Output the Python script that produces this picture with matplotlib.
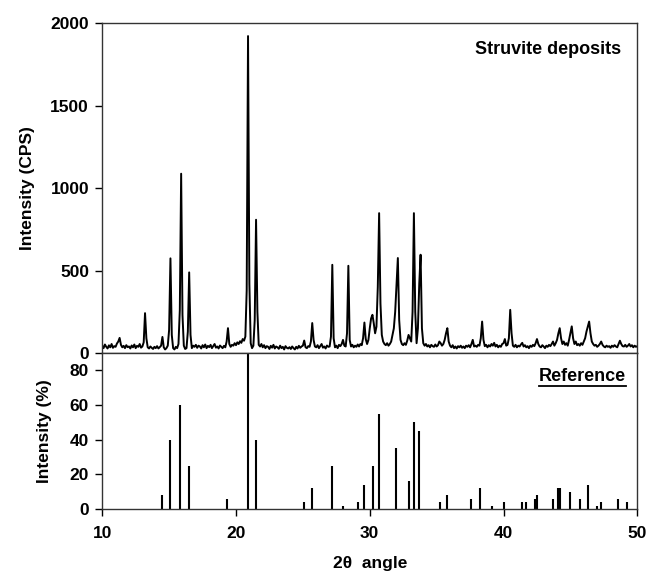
import numpy as np
import matplotlib
matplotlib.use("Agg")
import matplotlib.pyplot as plt
from matplotlib.lines import Line2D

plt.rcParams['font.family'] = ['Liberation Sans', 'DejaVu Sans']
plt.rcParams['font.weight'] = 'bold'
plt.rcParams['axes.labelweight'] = 'bold'

# measured scan, 0.1 deg steps from 10.0 to 50.0 (CPS)
scan_start, scan_step = 10.0, 0.1
cps_10_20 = [45, 30, 52, 38, 28, 47, 35, 55, 32, 42,
             38, 58, 70, 92, 50, 35, 44, 30, 48, 36,
             40, 28, 46, 35, 52, 30, 44, 38, 55, 33,
             40, 65, 242, 90, 35, 28, 40, 32, 25, 38,
             30, 42, 28, 36, 45, 98, 35, 22, 30, 45,
             140, 574, 110, 30, 22, 38, 30, 55, 260, 1087,
             230, 45, 25, 30, 130, 489, 110, 30, 45, 38,
             50, 32, 45, 40, 28, 48, 35, 52, 30, 44,
             36, 50, 30, 42, 55, 33, 40, 28, 46, 38,
             30, 44, 35, 70, 151, 55, 38, 50, 45, 60]
cps_20_30 = [48, 65, 55, 72, 62, 85, 75, 100, 380, 1921,
             420, 60, 30, 45, 200, 808, 250, 50, 40, 55,
             35, 48, 30, 42, 38, 25, 44, 33, 50, 28,
             40, 35, 26, 45, 30, 38, 22, 42, 32, 28,
             36, 25, 40, 30, 22, 38, 28, 44, 32, 40,
             45, 76, 35, 30, 42, 38, 70, 182, 80, 40,
             35, 48, 30, 42, 55, 33, 40, 28, 46, 38,
             40, 100, 535, 90, 35, 45, 30, 50, 42, 55,
             80, 45, 40, 120, 529, 80, 40, 50, 35, 45,
             38, 52, 40, 55, 48, 90, 185, 85, 55, 80]
cps_30_40 = [150, 210, 232, 180, 120, 160, 400, 848, 300, 110,
             70, 55, 48, 60, 45, 55, 70, 110, 150, 250,
             420, 576, 200, 80, 55, 48, 60, 50, 75, 110,
             90, 70, 250, 848, 250, 60, 150, 420, 596, 150,
             60, 45, 55, 40, 48, 35, 50, 42, 38, 52,
             40, 48, 70, 60, 45, 55, 80, 120, 151, 70,
             45, 35, 48, 30, 40, 28, 42, 35, 45, 32,
             40, 30, 45, 38, 48, 35, 55, 80, 40, 45,
             38, 50, 45, 90, 191, 80, 42, 50, 35, 48,
             40, 55, 45, 62, 40, 50, 35, 45, 38, 55]
cps_40_50 = [60, 85, 45, 50, 90, 262, 120, 45, 38, 50,
             35, 45, 40, 52, 62, 40, 48, 35, 42, 30,
             45, 38, 50, 42, 60, 85, 55, 40, 35, 48,
             40, 30, 45, 38, 50, 42, 55, 70, 45, 60,
             80, 120, 151, 90, 55, 70, 50, 60, 45, 80,
             120, 162, 90, 55, 70, 48, 55, 45, 60, 50,
             70, 90, 130, 160, 191, 120, 70, 55, 45, 50,
             38, 45, 55, 70, 50, 40, 35, 45, 38, 42,
             32, 45, 38, 48, 40, 35, 55, 75, 55, 42,
             40, 50, 38, 45, 55, 40, 48, 35, 45, 38, 42]

# reference pattern (stick positions and relative intensity %)
ref_2theta = [14.46, 15.03, 15.85, 16.50, 19.32, 20.87, 21.49, 25.05, 25.65,
              27.17, 27.97, 29.11, 29.56, 30.21, 30.66, 31.96, 32.90, 33.30,
              33.70, 35.22, 35.77, 37.56, 38.26, 39.16, 40.03, 41.38, 41.68,
              42.37, 42.50, 43.72, 44.07, 44.22, 44.99, 45.74, 46.31, 47.01,
              47.31, 48.58, 49.23]
ref_intensity = [8, 40, 60, 25, 6, 100, 40, 4, 12,
                 25, 2, 4, 14, 25, 55, 35, 16, 50,
                 45, 4, 8, 6, 12, 2, 4, 4, 4,
                 6, 8, 6, 12, 12, 10, 6, 14, 2,
                 4, 6, 4]

cps = np.array(cps_10_20 + cps_20_30 + cps_30_40 + cps_40_50)
two_theta = scan_start + scan_step * np.arange(len(cps))

fig = plt.figure(figsize=(6.47, 5.76), dpi=100)
ax1 = fig.add_axes([0.158, 0.387, 0.827, 0.573])
ax2 = fig.add_axes([0.158, 0.1163, 0.827, 0.2707], sharex=ax1)

ax1.plot(two_theta, cps, color='black', lw=1.4)
ax1.set_ylim(0, 2000)
ax1.set_yticks([0, 500, 1000, 1500, 2000])
ax1.set_ylabel('Intensity (CPS)', fontsize=12.5)
ax1.tick_params(axis='x', bottom=False, labelbottom=False)
ax1.text(0.97, 0.92, 'Struvite deposits', transform=ax1.transAxes,
         ha='right', va='center', fontsize=13, fontweight='bold')

ax2.vlines(ref_2theta, 0, ref_intensity, color='black', lw=1.5)
ax2.set_ylim(0, 90)
ax2.set_yticks([0, 20, 40, 60, 80])
ax2.set_xlim(10, 50)
ax2.set_xticks([10, 20, 30, 40, 50])
ax2.set_ylabel('Intensity (%)', fontsize=12.5)
ax2.set_xlabel('2θ  angle', fontsize=12.5, labelpad=11)
ref_txt = ax2.text(0.979, 0.85, 'Reference', transform=ax2.transAxes,
                   ha='right', va='center', fontsize=13, fontweight='bold')

for ax in (ax1, ax2):
    ax.tick_params(direction='out', length=5, width=1, labelsize=12.5,
                   colors='black')
    ax.tick_params(axis='y', pad=4.5)
    for sp in ax.spines.values():
        sp.set_color('#333333')
        sp.set_linewidth(1)
ax2.tick_params(axis='x', pad=7)
ax1.yaxis.set_label_coords(-0.125, 0.5)
ax2.yaxis.set_label_coords(-0.093, 0.5)

# underline "Reference"
fig.canvas.draw()
bb = ref_txt.get_window_extent()
inv = fig.transFigure.inverted()
(x0, y0), (x1, _) = inv.transform([[bb.x0, bb.y0 - 1], [bb.x1, bb.y0]])
fig.add_artist(Line2D([x0, x1], [y0, y0], transform=fig.transFigure,
                      color='black', lw=1.3))

fig.savefig('out.png', dpi=100, facecolor='white')
